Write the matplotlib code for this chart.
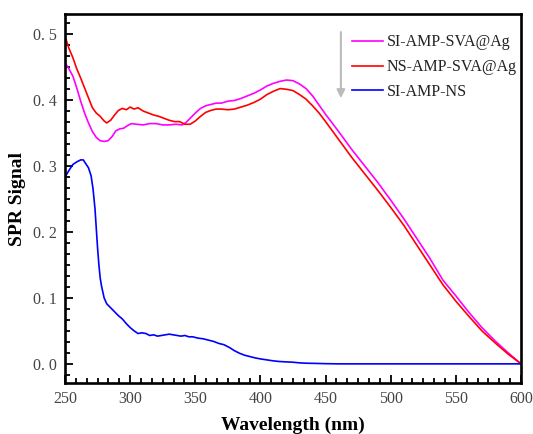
import matplotlib
matplotlib.use("Agg")
import matplotlib.pyplot as plt
from matplotlib.ticker import AutoMinorLocator, MultipleLocator, FuncFormatter

# SI-AMP-SVA@Ag spectrum
wl_si_ag = [250, 253, 256, 259, 262, 265, 268, 271, 274, 277, 280, 283, 286, 289,
            292, 295, 298, 301, 305, 310, 315, 320, 325, 330, 335, 340, 343, 346,
            350, 354, 358, 362, 366, 370, 375, 380, 385, 390, 395, 400, 405, 410,
            415, 420, 425, 430, 435, 440, 445, 450, 460, 470, 480, 490, 500, 510,
            520, 530, 540, 550, 560, 570, 580, 590, 600]
sig_si_ag = [0.456, 0.447, 0.436, 0.418, 0.398, 0.380, 0.365, 0.352, 0.343, 0.338,
             0.337, 0.338, 0.344, 0.353, 0.356, 0.357, 0.361, 0.364, 0.363, 0.362,
             0.364, 0.364, 0.362, 0.362, 0.363, 0.362, 0.366, 0.372, 0.380, 0.387,
             0.391, 0.393, 0.395, 0.395, 0.398, 0.399, 0.402, 0.406, 0.410, 0.415,
             0.421, 0.425, 0.428, 0.430, 0.429, 0.424, 0.417, 0.406, 0.392, 0.378,
             0.352, 0.325, 0.300, 0.275, 0.248, 0.220, 0.190, 0.160, 0.127, 0.103,
             0.078, 0.055, 0.035, 0.017, 0.000]

# NS-AMP-SVA@Ag spectrum
wl_ns_ag = [250, 253, 256, 259, 262, 265, 268, 271, 274, 277, 280, 282, 285, 288,
            291, 294, 297, 300, 303, 306, 310, 314, 318, 322, 326, 330, 334, 338,
            342, 346, 350, 354, 358, 362, 366, 370, 375, 380, 385, 390, 395, 400,
            405, 410, 415, 420, 425, 430, 435, 440, 445, 450, 460, 470, 480, 490,
            500, 510, 520, 530, 540, 550, 560, 570, 580, 590, 600]
sig_ns_ag = [0.496, 0.478, 0.464, 0.447, 0.433, 0.418, 0.403, 0.388, 0.380, 0.375,
             0.368, 0.365, 0.369, 0.377, 0.384, 0.387, 0.385, 0.389, 0.386, 0.388,
             0.383, 0.380, 0.377, 0.375, 0.372, 0.369, 0.367, 0.367, 0.363, 0.363,
             0.368, 0.375, 0.381, 0.384, 0.386, 0.386, 0.385, 0.386, 0.389, 0.392,
             0.396, 0.401, 0.408, 0.413, 0.417, 0.416, 0.414, 0.408, 0.401, 0.391,
             0.380, 0.367, 0.340, 0.313, 0.288, 0.263, 0.237, 0.210, 0.180, 0.150,
             0.120, 0.095, 0.072, 0.050, 0.032, 0.015, 0.000]

# SI-AMP-NS spectrum
wl_si_ns = [250, 253, 256, 259, 262, 264, 266, 268, 270, 271.5, 273, 274, 275, 276,
            277, 278, 280, 282, 285, 288, 291, 294, 297, 300, 303, 306, 309, 312,
            315, 318, 321, 324, 327, 330, 333, 336, 339, 342, 345, 348, 352, 356,
            360, 364, 368, 372, 376, 380, 384, 388, 392, 396, 400, 405, 410, 415,
            420, 425, 430, 435, 440, 450, 460, 500, 550, 600]
sig_si_ns = [0.283, 0.293, 0.302, 0.306, 0.309, 0.309, 0.303, 0.297, 0.285, 0.265,
             0.235, 0.205, 0.175, 0.150, 0.130, 0.118, 0.100, 0.091, 0.085, 0.079,
             0.073, 0.068, 0.061, 0.055, 0.050, 0.046, 0.047, 0.046, 0.043, 0.044,
             0.042, 0.043, 0.044, 0.045, 0.044, 0.043, 0.042, 0.043, 0.041, 0.041,
             0.039, 0.038, 0.036, 0.034, 0.031, 0.029, 0.025, 0.020, 0.016, 0.013,
             0.011, 0.009, 0.0075, 0.006, 0.0045, 0.0035, 0.003, 0.0025, 0.0015,
             0.001, 0.0008, 0.0003, 0.0, 0.0, 0.0, 0.0]

series_labels = ["SI-AMP-SVA@Ag", "NS-AMP-SVA@Ag", "SI-AMP-NS"]
series_colors = ["#ff00ff", "#ff0000", "#0000ff"]

plt.rcParams["font.family"] = ["Liberation Serif", "DejaVu Serif"]

fig = plt.figure(figsize=(5.33, 4.34), dpi=100)
ax = fig.add_axes([0.122, 0.1175, 0.8555, 0.8502])

for wl, sig, lab, col in zip([wl_si_ag, wl_ns_ag, wl_si_ns],
                             [sig_si_ag, sig_ns_ag, sig_si_ns],
                             series_labels, series_colors):
    ax.plot(wl, sig, color=col, lw=1.2, label=lab)

ax.set_xlim(250, 600)
ax.set_ylim(-0.029, 0.530)

ax.xaxis.set_major_locator(MultipleLocator(50))
ax.xaxis.set_minor_locator(AutoMinorLocator(6))
ax.yaxis.set_major_locator(MultipleLocator(0.1))
ax.yaxis.set_minor_locator(AutoMinorLocator(6))
ax.yaxis.set_major_formatter(FuncFormatter(lambda v, p: f"{v:.1f}".replace(".", ". ")))

ax.tick_params(which="both", direction="in", top=False, right=False,
               width=1.3, labelsize=11.5, labelcolor="#444444", pad=6)
ax.tick_params(which="major", length=6)
ax.tick_params(which="minor", length=3.5)

for sp in ax.spines.values():
    sp.set_linewidth(1.9)

ax.set_xlabel("Wavelength (nm)", fontsize=14, fontweight="bold", labelpad=7)
ax.set_ylabel("SPR Signal", fontsize=14, fontweight="bold", labelpad=5)

leg = ax.legend(loc="upper right", frameon=False, fontsize=11.5,
                handlelength=1.9, handletextpad=0.25, labelspacing=0.55,
                bbox_to_anchor=(1.015, 0.975), borderaxespad=0.3)
for txt in leg.get_texts():
    txt.set_color("#222222")

ax.annotate("", xy=(0.605, 0.772), xytext=(0.605, 0.951),
            xycoords="axes fraction", textcoords="axes fraction",
            arrowprops=dict(arrowstyle="-|>", color="#bbbbbb", lw=1.5,
                            mutation_scale=12, shrinkA=0, shrinkB=0))

fig.savefig("out.png", dpi=100)
